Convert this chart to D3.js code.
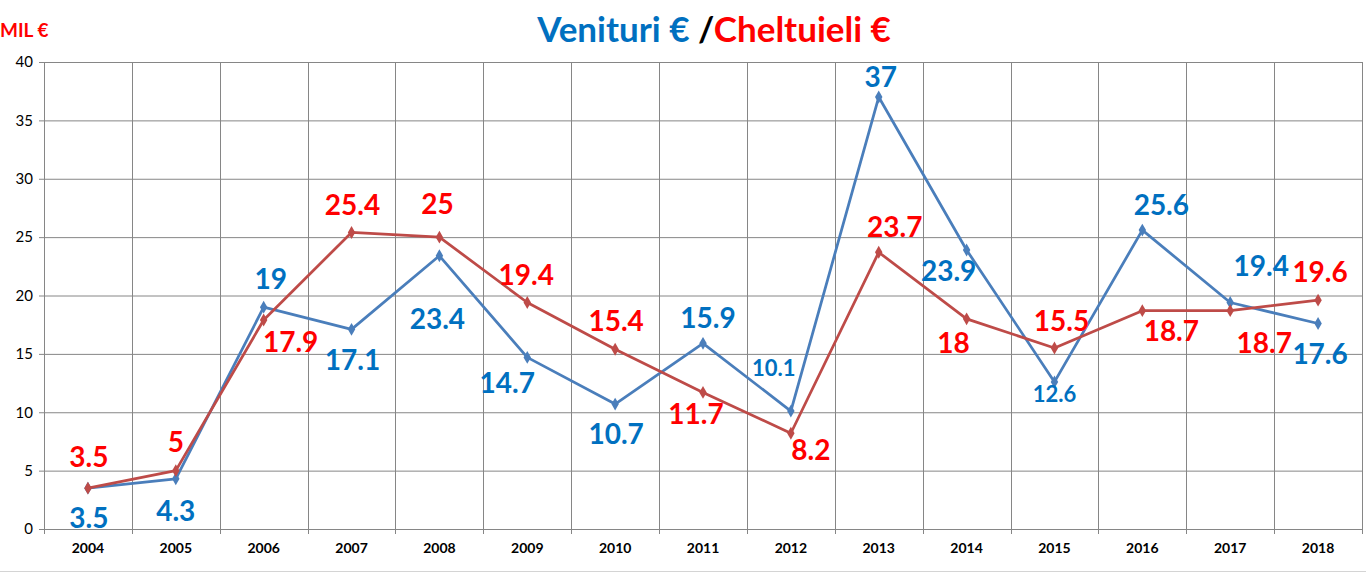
<!DOCTYPE html>
<html>
<head>
<meta charset="utf-8">
<script src="https://cdn.jsdelivr.net/npm/d3@7"></script>
<style>
  html, body { margin: 0; padding: 0; background: #ffffff; }
  svg { display: block; font-family: Lato, "Open Sans", sans-serif; }
</style>
</head>
<body>
<svg id="chart" width="1366" height="573"></svg>
<script>
// ---- data ----
const years = ["2004","2005","2006","2007","2008","2009","2010","2011","2012","2013","2014","2015","2016","2017","2018"];
const venituri = [3.5, 4.3, 19, 17.1, 23.4, 14.7, 10.7, 15.9, 10.1, 37, 23.9, 12.6, 25.6, 19.4, 17.6];
const cheltuieli = [3.5, 5, 17.9, 25.4, 25, 19.4, 15.4, 11.7, 8.2, 23.7, 18, 15.5, 18.7, 18.7, 19.6];
const yTicks = [0, 5, 10, 15, 20, 25, 30, 35, 40];

// label placement (pixel offsets from each point) and sizes
const venituriLabelOffsets = [[1,30],[0,32],[7,-28],[1,31],[-2,63],[-20,26],[1,30],[5,-25],[-17,-43],[2,-20],[-18,21],[0,12],[19,-25],[31,-37],[2,30]];
const cheltuieliLabelOffsets = [[1,-31],[0,-29],[27,22],[1,-28],[-2,-33],[-1,-28],[1,-28],[-7,22],[20,17],[16,-25],[-13,24],[7,-27],[29,20],[34,32],[2,-28]];
const venituriLabelSizes = [28,28,28,28,28,28,28,28,22,28,28,22,28,28,28];

(function () {
const svg = d3.select("#chart");
const pL = 44, pR = 1362, pT = 62, pB = 529;
const gridColor = "#868686";

const x = d3.scaleBand().domain(years).range([pL, pR]).padding(0);
const y = d3.scaleLinear().domain([0, 40]).range([pB, pT]);

// faint sheet border at bottom
svg.append("line").attr("x1", 0).attr("x2", 1366).attr("y1", 571.5).attr("y2", 571.5)
  .attr("stroke", "#d4d4d4").attr("stroke-width", 1);

// horizontal gridlines
const hGrid = d3.axisLeft(y).tickValues(yTicks).tickSize(-(pR - pL)).tickFormat("");
const gh = svg.append("g").attr("transform", `translate(${pL},0)`).call(hGrid);
gh.select(".domain").remove();
gh.selectAll(".tick line").attr("stroke", gridColor).attr("stroke-width", 1);

// y axis labels
const yAxis = d3.axisLeft(y).tickValues(yTicks).tickSize(5).tickPadding(6).tickFormat(d3.format("d"));
const gy = svg.append("g").attr("transform", `translate(${pL},0)`).call(yAxis);
gy.select(".domain").attr("stroke", gridColor);
gy.selectAll(".tick line").attr("stroke", gridColor);
gy.selectAll(".tick text").attr("font-size", 15).attr("fill", "#000").attr("font-family", "Lato, sans-serif");

// vertical gridlines at category boundaries + ticks below axis
const boundaries = years.map(d => x(d)).concat([x(years[years.length - 1]) + x.bandwidth()]);
svg.append("g").selectAll("line").data(boundaries).join("line")
  .attr("x1", d => Math.round(d) + 0.5).attr("x2", d => Math.round(d) + 0.5)
  .attr("y1", pT).attr("y2", pB + 5)
  .attr("stroke", gridColor).attr("stroke-width", 1);

// x axis labels
const xAxis = d3.axisBottom(x).tickSize(0).tickPadding(14);
const gx = svg.append("g").attr("transform", `translate(0,${pB})`).call(xAxis);
gx.select(".domain").attr("stroke", gridColor);
gx.selectAll(".tick text").attr("font-size", 14).attr("font-weight", "bold").attr("fill", "#000")
  .attr("font-family", "Lato, sans-serif");

// lines
const lineGen = d3.line().x((d, i) => x(years[i]) + x.bandwidth() / 2).y(d => y(d));
const series = [
  { values: venituri, stroke: "#4A7EBB", label: "#0070C0", offsets: venituriLabelOffsets, sizes: venituriLabelSizes },
  { values: cheltuieli, stroke: "#BE4B48", label: "#FF0000", offsets: cheltuieliLabelOffsets, sizes: null }
];

series.forEach(s => {
  svg.append("path").datum(s.values).attr("d", lineGen)
    .attr("fill", "none").attr("stroke", s.stroke).attr("stroke-width", 2.75).attr("stroke-linejoin", "round");
  svg.append("g").selectAll("path").data(s.values).join("path")
    .attr("d", d3.symbol(d3.symbolDiamond, 48))
    .attr("transform", (d, i) => `translate(${x(years[i]) + x.bandwidth() / 2},${y(d)})`)
    .attr("fill", s.stroke);
});

series.forEach(s => {
  svg.append("g").selectAll("text").data(s.values).join("text")
    .attr("x", (d, i) => x(years[i]) + x.bandwidth() / 2 + s.offsets[i][0])
    .attr("y", (d, i) => y(d) + s.offsets[i][1])
    .attr("dy", "0.36em")
    .attr("text-anchor", "middle")
    .attr("font-size", (d, i) => s.sizes ? s.sizes[i] : 28)
    .attr("font-weight", "bold")
    .attr("fill", s.label)
    .text(d => d);
});

// title
const title = svg.append("text").attr("x", 714).attr("y", 42).attr("text-anchor", "middle")
  .attr("font-size", 35).attr("font-weight", "bold");
title.append("tspan").attr("fill", "#0070C0").text("Venituri € ");
title.append("tspan").attr("fill", "#000").text("/");
title.append("tspan").attr("fill", "#FF0000").text("Cheltuieli €");

// unit label
svg.append("text").attr("x", 0).attr("y", 37).attr("font-size", 19).attr("font-weight", "bold")
  .attr("fill", "#FF0000").text("MIL €");
})();
</script>
</body>
</html>
